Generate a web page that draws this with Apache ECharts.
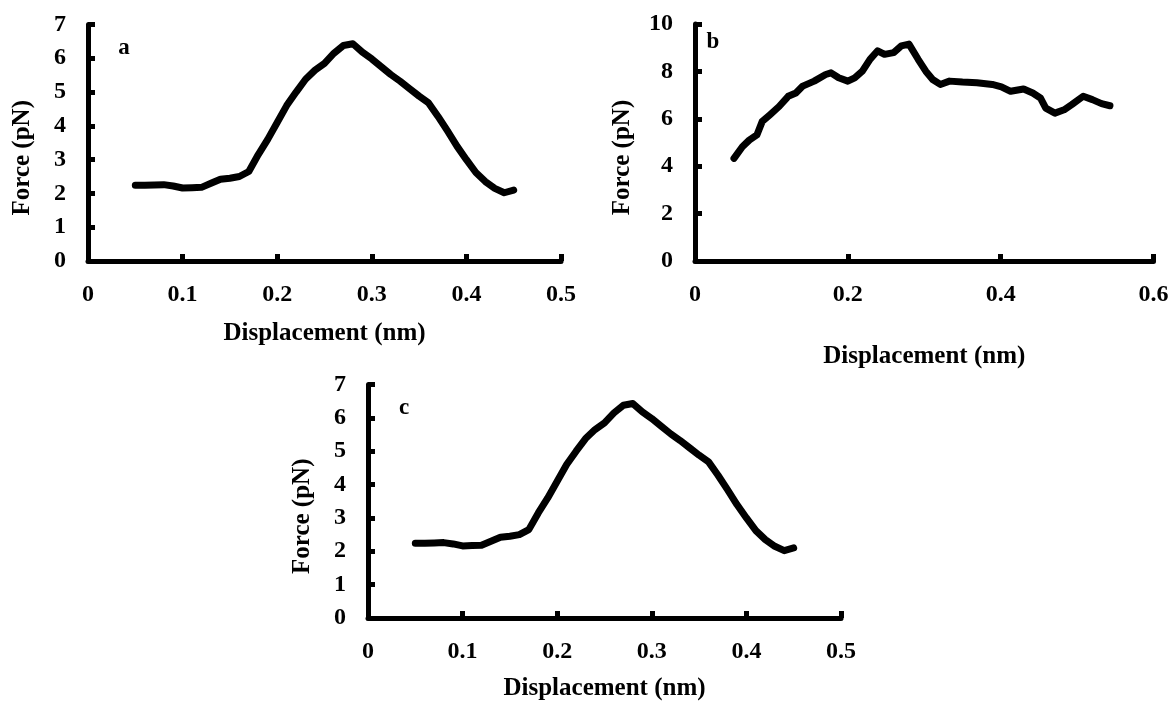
<!DOCTYPE html>
<html><head><meta charset="utf-8">
<script src="https://cdn.jsdelivr.net/npm/echarts@6/dist/echarts.min.js"></script>
<style>html,body{margin:0;padding:0;background:#fff}#c{width:1174px;height:702px}</style>
</head><body><div id="c"></div>
<script>
// Panel a (and identical panel c)
const dispA = [0.05,0.06,0.07,0.08,0.09,0.10,0.11,0.12,0.13,0.14,0.15,0.16,0.17,0.18,0.19,0.20,0.21,0.22,0.23,0.24,0.25,0.26,0.27,0.28,0.29,0.30,0.31,0.32,0.33,0.34,0.35,0.36,0.37,0.38,0.39,0.40,0.41,0.42,0.43,0.44,0.45];
const forceA = [2.24,2.24,2.25,2.26,2.22,2.16,2.17,2.18,2.30,2.42,2.45,2.50,2.65,3.15,3.60,4.10,4.60,5.00,5.38,5.65,5.85,6.15,6.38,6.43,6.18,5.98,5.75,5.52,5.32,5.10,4.88,4.68,4.28,3.85,3.40,3.00,2.62,2.35,2.15,2.02,2.10];
// Panel b
const dispB = [0.051,0.062,0.071,0.081,0.088,0.098,0.110,0.122,0.132,0.141,0.156,0.171,0.178,0.188,0.200,0.209,0.219,0.229,0.239,0.248,0.260,0.270,0.280,0.292,0.302,0.311,0.321,0.333,0.350,0.369,0.389,0.401,0.413,0.430,0.442,0.452,0.459,0.471,0.483,0.493,0.508,0.520,0.532,0.543];
const forceB = [4.33,4.82,5.10,5.32,5.89,6.17,6.52,6.95,7.09,7.38,7.59,7.87,7.94,7.73,7.59,7.73,8.01,8.51,8.87,8.72,8.79,9.08,9.15,8.51,8.01,7.66,7.45,7.59,7.55,7.52,7.45,7.35,7.16,7.26,7.09,6.88,6.45,6.24,6.38,6.60,6.95,6.81,6.64,6.55];
const dispC = dispA;
const forceC = forceA;
const panelLabels = ['a','b','c'];
const xTitle = 'Displacement (nm)';
const yTitle = 'Force (pN)';

const FONT = "'Times New Roman', 'Liberation Serif', serif";
const pairs = (xs, ys) => xs.map((x, i) => [x, ys[i]]);

function xAxis(gi, max, interval, nameGap) {
  return {
    type: 'value', gridIndex: gi, min: 0, max: max, interval: interval,
    axisLine: {show: true, lineStyle: {color: '#000', width: 5}},
    axisTick: {show: true, inside: true, length: 7, lineStyle: {color: '#000', width: 5}},
    splitLine: {show: false},
    axisLabel: {color: '#000', fontSize: 24, fontWeight: 'bold', fontFamily: FONT, margin: 22},
    name: xTitle, nameLocation: 'middle', nameGap: nameGap,
    nameTextStyle: {color: '#000', fontSize: 25, fontWeight: 'bold', fontFamily: FONT}
  };
}
function yAxis(gi, max, interval, nameGap) {
  return {
    type: 'value', gridIndex: gi, min: 0, max: max, interval: interval,
    axisLine: {show: true, lineStyle: {color: '#000', width: 5}},
    axisTick: {show: true, inside: true, length: 7, lineStyle: {color: '#000', width: 5}},
    splitLine: {show: false},
    axisLabel: {color: '#000', fontSize: 24, fontWeight: 'bold', fontFamily: FONT, margin: 22},
    name: yTitle, nameLocation: 'middle', nameGap: nameGap,
    nameTextStyle: {color: '#000', fontSize: 25, fontWeight: 'bold', fontFamily: FONT, padding: [0, 30, 0, 0]}
  };
}
function lineSeries(gi, data) {
  return {
    type: 'line', xAxisIndex: gi, yAxisIndex: gi, data: data, showSymbol: false, symbol: 'none',
    lineStyle: {color: '#000', width: 7, cap: 'round', join: 'round'}, animation: false
  };
}
const chart = echarts.init(document.getElementById('c'), null, {renderer: 'canvas'});
chart.setOption({
  backgroundColor: '#fff',
  animation: false,
  grid: [
    {left: 88, right: 613, top: 24.5, bottom: 441},
    {left: 695, right: 20.5, top: 24, bottom: 441},
    {left: 368, right: 333, top: 384.5, bottom: 81}
  ],
  xAxis: [xAxis(0, 0.5, 0.1, 60), xAxis(1, 0.6, 0.2, 83), xAxis(2, 0.5, 0.1, 58)],
  yAxis: [yAxis(0, 7, 1, 53), yAxis(1, 10, 2, 60), yAxis(2, 7, 1, 53)],
  series: [lineSeries(0, pairs(dispA, forceA)), lineSeries(1, pairs(dispB, forceB)), lineSeries(2, pairs(dispC, forceC))],
  graphic: [
    {type: 'text', x: 124, y: 48, style: {text: panelLabels[0], font: "bold 23px " + FONT, fill: '#000', align: 'center', verticalAlign: 'middle'}},
    {type: 'text', x: 713, y: 42, style: {text: panelLabels[1], font: "bold 23px " + FONT, fill: '#000', align: 'center', verticalAlign: 'middle'}},
    {type: 'text', x: 404, y: 408, style: {text: panelLabels[2], font: "bold 23px " + FONT, fill: '#000', align: 'center', verticalAlign: 'middle'}}
  ]
});
</script></body></html>
